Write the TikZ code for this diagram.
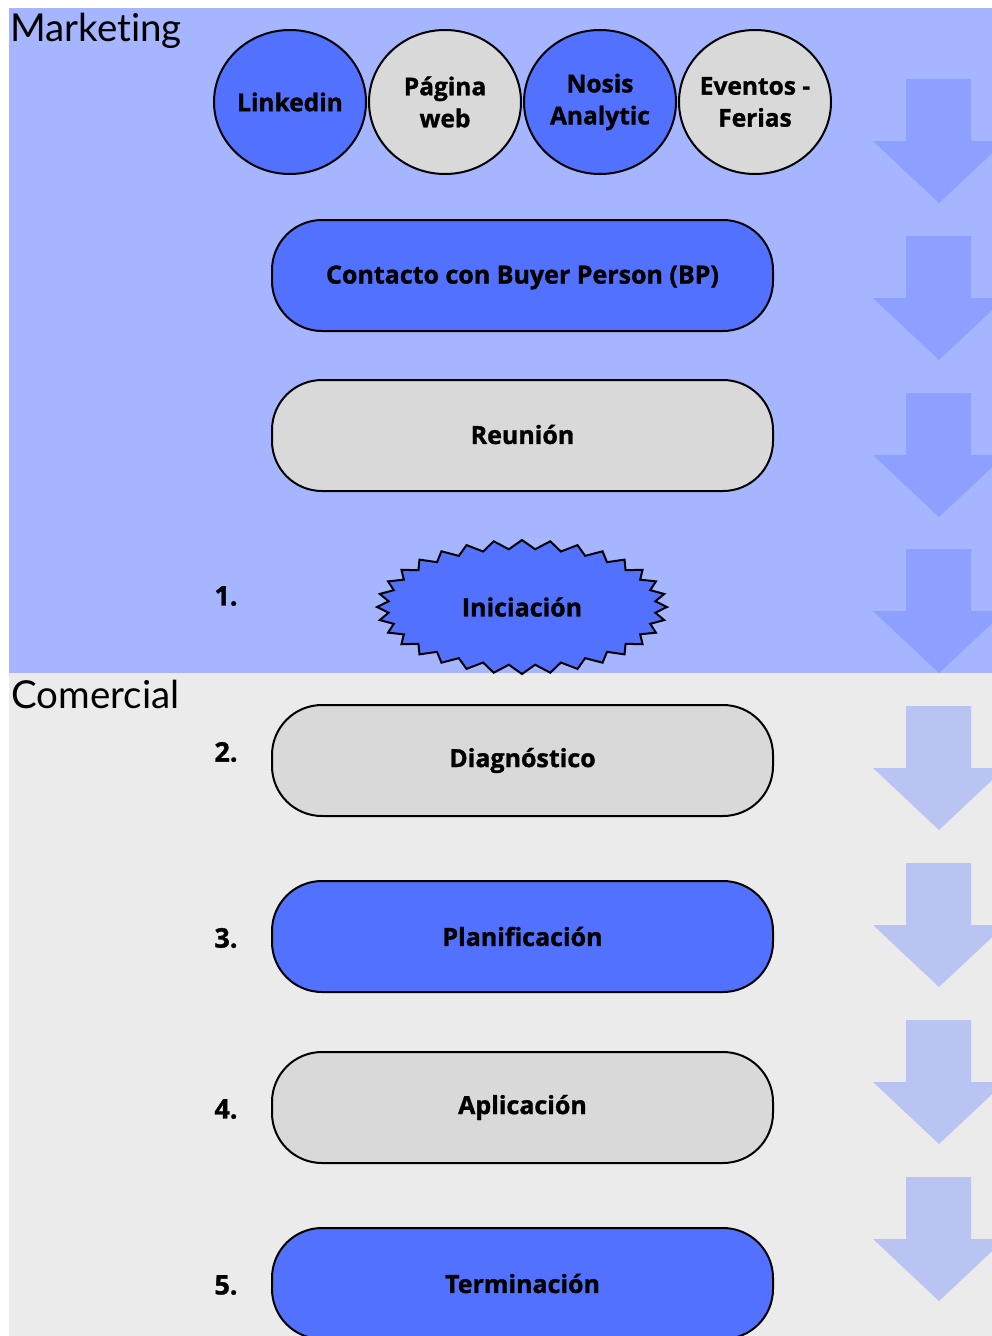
\documentclass[tikz,border=0pt]{standalone}
\usepackage{fontspec}
\setmainfont{Open Sans}[BoldFeatures={FakeBold=1.2}]
\newfontfamily\titlefont{Lato}[Ligatures=NoCommon]
\definecolor{bgblue}{HTML}{A6B5FF}
\definecolor{bggray}{HTML}{EBEBEB}
\definecolor{arrblue}{HTML}{8DA0FF}
\definecolor{arrgray}{HTML}{B9C4F2}
\definecolor{nblue}{HTML}{5271FF}
\definecolor{ngray}{HTML}{D9D9D9}
\tikzset{
  pill/.style={draw=black, line width=2pt, rounded corners=50pt, minimum width=501pt, minimum height=111pt},
  pilltext/.style={font=\bfseries\fontsize{25}{28}\selectfont},
  circ/.style={draw=black, line width=2pt, ellipse, minimum width=152pt, minimum height=144pt, font=\bfseries\fontsize{24.5}{32}\selectfont, align=center, inner sep=-6pt},
  num/.style={font=\bfseries\fontsize{27}{30}\selectfont},
  sect/.style={font=\titlefont\fontsize{38.5}{40}\selectfont, anchor=base west, inner sep=0pt},
}
\usetikzlibrary{shapes.geometric}
\begin{document}
\begin{tikzpicture}[x=1pt,y=-1pt]
\useasboundingbox (0,0) rectangle (992,1336);
\clip (0,0) rectangle (992,1336);
\fill[white] (0,0) rectangle (992,1336);
\fill[bgblue] (9,8) rectangle (992,673);
\fill[bggray] (9,673) rectangle (992,1336);
% arrows
\foreach \t in {79,236,393,549} {
  \fill[arrblue] (906,\t) -- (971,\t) -- (971,\t+62) -- (1005,\t+62) -- (939,\t+124) -- (873,\t+62) -- (906,\t+62) -- cycle;
}
\foreach \t in {706,863,1020,1177} {
  \fill[arrgray] (906,\t) -- (971,\t) -- (971,\t+62) -- (1005,\t+62) -- (939,\t+124) -- (873,\t+62) -- (906,\t+62) -- cycle;
}
\node[sect] (mk) at (10,41) {Marketing};
\node[sect] (co) at (11,708) {Comercial};
% circles
\node[circ, fill=nblue] (li) at (290,102) {Linkedin};
\node[circ, fill=ngray] (pw) at (445,102) {Página\\web};
\node[circ, fill=nblue] (na) at (600,102) {Nosis\\Analytic};
\node[circ, fill=ngray] (ev) at (755,102) {Eventos -\\Ferias};
% pills
\node[pill, fill=nblue] (bp) at (522.5,275.5) {};
\node[pill, fill=ngray] (re) at (522.5,435.5) {};
\node[pill, fill=ngray] (di) at (522.5,760.5) {};
\node[pill, fill=nblue] (pl) at (522.5,936.5) {};
\node[pill, fill=ngray] (ap) at (522.5,1107.5) {};
\node[pill, fill=nblue] (te) at (522.5,1283.5) {};
\node[pilltext] at ([yshift=-2pt]bp.center) {Contacto con Buyer Person (BP)};
\node[pilltext] at ([yshift=1pt]re.center) {Reunión};
\node[pilltext] at ([yshift=0pt]di.center) {Diagnóstico};
\node[pilltext] at ([yshift=0pt]pl.center) {Planificación};
\node[pilltext] at ([yshift=0pt]ap.center) {Aplicación};
\node[pilltext] at ([yshift=0pt]te.center) {Terminación};
% star
\draw[fill=nblue, line width=2pt, line join=miter] (522+145,607)
  \foreach \i [evaluate=\i as \fx using {ifthenelse(mod(\i,2)==0,145,134)}, evaluate=\i as \fy using {ifthenelse(mod(\i,2)==0,67,58)}] in {1,...,63} { -- ({522+\fx*cos(\i*5.625)},{607+\fy*sin(\i*5.625)}) } -- cycle;
\node[pilltext] (ini) at (522,607) {Iniciación};
% numbers
\node[num] (n1) at (226,596) {1.};
\node[num] (n2) at (226,752) {2.};
\node[num] (n3) at (226,938) {3.};
\node[num] (n4) at (226,1109) {4.};
\node[num] (n5) at (226,1285) {5.};
\end{tikzpicture}
\end{document}
